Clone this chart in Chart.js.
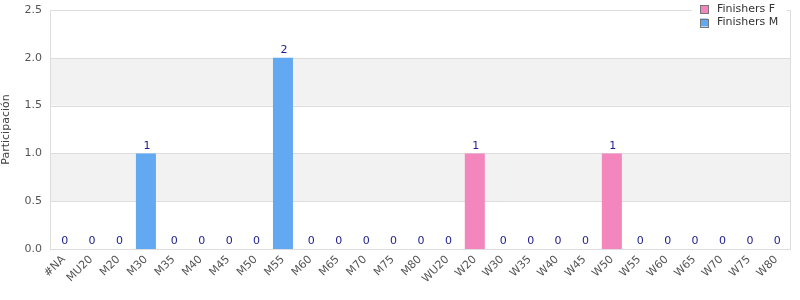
<!DOCTYPE html>
<html>
<head>
<meta charset="utf-8">
<script src="https://cdn.jsdelivr.net/npm/chart.js@4"></script>
<style>
  html, body { margin: 0; padding: 0; background: #fff; }
  #wrap { width: 800px; height: 300px; }
</style>
</head>
<body>
<div id="wrap"><canvas id="chart" width="800" height="300"></canvas></div>
<script>
// Categories and series
const categories = ['#NA', 'MU20', 'M20', 'M30', 'M35', 'M40', 'M45', 'M50', 'M55', 'M60', 'M65', 'M70', 'M75', 'M80',
    'WU20', 'W20', 'W30', 'W35', 'W40', 'W45', 'W50', 'W55', 'W60', 'W65', 'W70', 'W75', 'W80'];
const finishersF = [0, 0, 0, 0, 0, 0, 0, 0, 0, 0, 0, 0, 0, 0, 0, 1, 0, 0, 0, 0, 1, 0, 0, 0, 0, 0, 0];
const finishersM = [0, 0, 0, 1, 0, 0, 0, 0, 2, 0, 0, 0, 0, 0, 0, 0, 0, 0, 0, 0, 0, 0, 0, 0, 0, 0, 0];
const seriesNames = ['Finishers F', 'Finishers M'];
const seriesColors = ['#f386bc', '#62a9f1'];
const yTicks = [0, 0.5, 1, 1.5, 2, 2.5];

const FONT = 'DejaVu Sans';

// Alternating grey bands behind the bars + box round the plot
const bandsPlugin = {
    id: 'bands',
    beforeDatasetsDraw(chart) {
        const { ctx, chartArea: a, scales: { y } } = chart;
        ctx.save();
        ctx.fillStyle = '#f2f2f2';
        for (let i = 1; i < yTicks.length - 1; i += 2) {
            const top = y.getPixelForValue(yTicks[i + 1]);
            const bottom = y.getPixelForValue(yTicks[i]);
            ctx.fillRect(a.left, top, a.right - a.left, bottom - top);
        }
        ctx.strokeStyle = '#dddddd';
        ctx.lineWidth = 1;
        yTicks.forEach(v => {
            const py = Math.round(y.getPixelForValue(v)) + 0.5;
            ctx.beginPath();
            ctx.moveTo(a.left, py);
            ctx.lineTo(a.right, py);
            ctx.stroke();
        });
        ctx.strokeRect(Math.round(a.left) + 0.5, Math.round(a.top) + 0.5,
            Math.round(a.right - a.left), Math.round(a.bottom - a.top));
        ctx.restore();
    }
};

// Total value above every stack
const totalsPlugin = {
    id: 'totals',
    afterDatasetsDraw(chart) {
        const { ctx, scales: { x, y } } = chart;
        ctx.save();
        ctx.font = '11px "' + FONT + '"';
        ctx.fillStyle = '#1c1c8e';
        ctx.textAlign = 'center';
        ctx.textBaseline = 'bottom';
        categories.forEach((c, i) => {
            const total = finishersF[i] + finishersM[i];
            ctx.fillText(String(total), x.getPixelForValue(i) + 1, y.getPixelForValue(total) - 2);
        });
        ctx.restore();
    }
};

// Legend floating over the top right corner of the plot
const legendPlugin = {
    id: 'floatLegend',
    afterDraw(chart) {
        const { ctx, chartArea: a } = chart;
        ctx.save();
        ctx.fillStyle = '#ffffff';
        ctx.fillRect(a.right - 98, 0, 95, 30);
        ctx.font = '11px "' + FONT + '"';
        ctx.textBaseline = 'middle';
        ctx.textAlign = 'left';
        seriesNames.forEach((name, i) => {
            const cy = 9 + i * 13.5;
            ctx.fillStyle = seriesColors[i];
            ctx.fillRect(a.right - 90, cy - 4, 8, 8);
            ctx.strokeStyle = '#777';
            ctx.lineWidth = 1;
            ctx.strokeRect(a.right - 90 + 0.5, Math.round(cy - 4) + 0.5, 8, 8);
            ctx.fillStyle = '#333';
            ctx.fillText(name, a.right - 73, cy);
        });
        ctx.restore();
    }
};

const ctx = document.getElementById('chart').getContext('2d');
new Chart(ctx, {
    type: 'bar',
    data: {
        labels: categories,
        datasets: [
            { label: seriesNames[0], data: finishersF, backgroundColor: seriesColors[0] },
            { label: seriesNames[1], data: finishersM, backgroundColor: seriesColors[1] }
        ]
    },
    options: {
        responsive: false,
        animation: false,
        layout: { padding: { top: 10, right: 10, left: 0, bottom: 0 } },
        datasets: { bar: { barPercentage: 0.73, categoryPercentage: 1 } },
        plugins: {
            legend: { display: false },
            tooltip: { enabled: false }
        },
        scales: {
            x: {
                stacked: true,
                offset: true,
                grid: { display: false, drawTicks: false },
                border: { display: false },
                ticks: {
                    color: '#555',
                    font: { family: FONT, size: 11 },
                    minRotation: 45,
                    maxRotation: 45,
                    autoSkip: false,
                    padding: 4
                },
                afterFit(scale) {
                    scale.height = 51;
                    scale.paddingLeft = 0;
                    scale.paddingRight = 0;
                }
            },
            y: {
                stacked: true,
                min: 0,
                max: 2.5,
                grid: { display: false, drawTicks: false },
                border: { display: false },
                ticks: {
                    stepSize: 0.5,
                    color: '#555',
                    font: { family: FONT, size: 11 },
                    padding: 8,
                    callback: v => v.toFixed(1)
                },
                title: {
                    display: true,
                    text: 'Participación',
                    color: '#444',
                    font: { family: FONT, size: 11 },
                    padding: 0
                },
                afterFit(scale) {
                    scale.width = 50;
                    scale.paddingTop = 0;
                    scale.paddingBottom = 0;
                }
            }
        }
    },
    plugins: [bandsPlugin, totalsPlugin, legendPlugin]
});
</script>
</body>
</html>
